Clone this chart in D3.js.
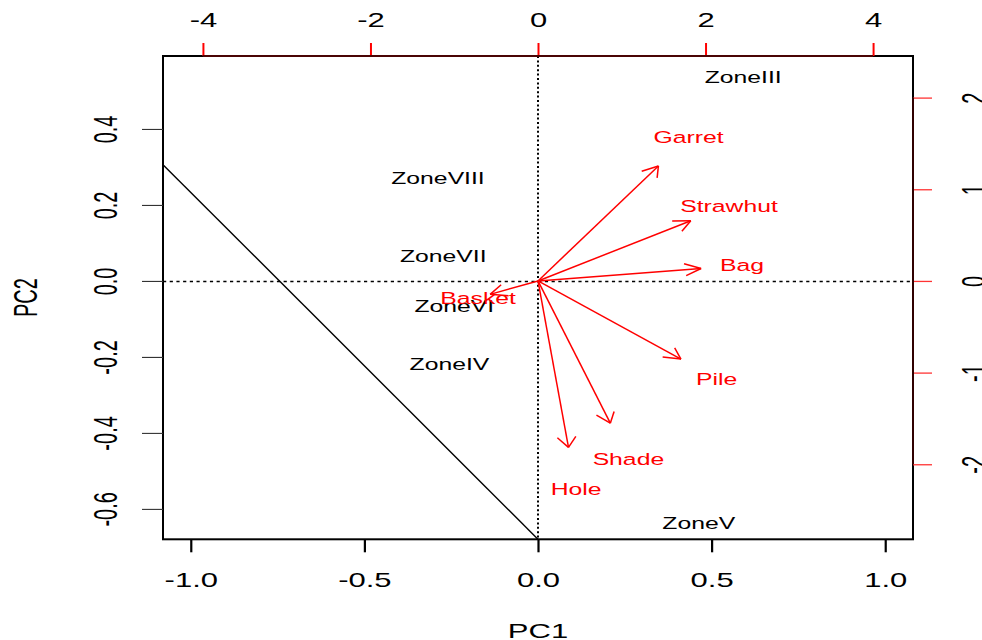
<!DOCTYPE html>
<html><head><meta charset="utf-8">
<script src="https://cdn.jsdelivr.net/npm/d3@7"></script>
<style>html,body{margin:0;padding:0;background:#fff;} svg{display:block;}</style>
</head><body>
<script>
// ---- data ----
const zoneNames = ["ZoneIII","ZoneVIII","ZoneVII","ZoneVI","ZoneIV","ZoneV"];
const zonePC1 = [0.591,-0.288,-0.273,-0.241,-0.255,0.463];
const zonePC2 = [0.536,0.272,0.066,-0.066,-0.219,-0.638];
const varNames = ["Garret","Strawhut","Bag","Pile","Shade","Hole","Basket"];
const varX = [1.797,2.28,2.434,2.133,1.079,0.455,-0.715];
const varY = [1.568,0.82,0.17,-1.066,-1.94,-2.27,-0.183];
const pc1Ticks = [-1.0,-0.5,0.0,0.5,1.0];
const pc2Ticks = [-0.6,-0.4,-0.2,0.0,0.2,0.4];
const topTicks = [-4,-2,0,2,4];
const rightTicks = [-2,-1,0,1,2];
const lineIntercept = -0.68, lineSlope = -0.913;
const arrowShrink = 0.8;
const varScaleRatio = 4.145;

// ---- layout ----
const W = 982, H = 640;
const L = 163, R = 913, T = 56, B = 539.3;
const SX = 1.55;       // horizontal stretch of text
const SXR = 1.65;      // stretch for rotated text
const FONT = "'Liberation Sans', Arial, Helvetica, sans-serif";
const RED = "#ff0000";

const svg = d3.select("body").append("svg").attr("width", W).attr("height", H)
  .style("font-family", FONT);

const x = d3.scaleLinear().domain([-1.08, 1.08]).range([L, R]);
const y = d3.scaleLinear().domain([-0.68, 0.592]).range([B, T]);
const xt = d3.scaleLinear().domain(x.domain().map(d => d * varScaleRatio)).range(x.range());
const yr = d3.scaleLinear().domain(y.domain().map(d => d * varScaleRatio)).range(y.range());

svg.append("defs").append("clipPath").attr("id", "clip")
  .append("rect").attr("x", L).attr("y", T).attr("width", R - L).attr("height", B - T);

// reference lines
svg.append("line").attr("x1", L).attr("x2", R).attr("y1", Math.round(y(0)) + 0.5).attr("y2", Math.round(y(0)) + 0.5)
  .attr("stroke", "#000").attr("stroke-width", 1.4).attr("stroke-dasharray", "3.2,3.5");
svg.append("line").attr("x1", x(0)).attr("x2", x(0)).attr("y1", T).attr("y2", B)
  .attr("stroke", "#000").attr("stroke-width", 2).attr("stroke-dasharray", "2,2.4");

// diagonal line (abline), clipped
const lx = x.domain();
svg.append("line").attr("clip-path", "url(#clip)")
  .attr("x1", x(lx[0])).attr("y1", y(lineIntercept + lineSlope * lx[0]))
  .attr("x2", x(lx[1])).attr("y2", y(lineIntercept + lineSlope * lx[1]))
  .attr("stroke", "#000").attr("stroke-width", 1.4);

// zone labels
svg.append("g").selectAll("text").data(zoneNames).join("text")
  .attr("transform", (d, i) => `translate(${x(zonePC1[i])},${y(zonePC2[i])}) scale(1.5,1)`)
  .attr("dy", "0.36em").attr("text-anchor", "middle").attr("font-size", 16.5)
  .attr("fill", "#000").text(d => d);

// box
svg.append("rect").attr("x", L).attr("y", T).attr("width", R - L).attr("height", B - T)
  .attr("fill", "none").attr("stroke", "#000").attr("stroke-width", 2);

// ---- axes ----
const fmt1 = d => d.toFixed(1);
const fmt0 = d => String(d);

// bottom
const gB = svg.append("g").attr("transform", `translate(0,${B})`)
  .call(d3.axisBottom(x).tickValues(pc1Ticks).tickFormat(fmt1).tickSize(13).tickSizeOuter(0));
gB.select(".domain").remove();
gB.selectAll(".tick line").attr("stroke", "#000").attr("stroke-width", 2.2);
gB.selectAll(".tick text").attr("y", null).attr("dy", null).attr("fill", "#000")
  .attr("font-size", 20).attr("text-anchor", "middle")
  .attr("transform", `translate(0,${587 - B}) scale(${SX},1)`);

// left
const gL = svg.append("g").attr("transform", `translate(${L},0)`)
  .call(d3.axisLeft(y).tickValues(pc2Ticks).tickFormat(fmt1).tickSize(21).tickSizeOuter(0));
gL.select(".domain").remove();
gL.selectAll(".tick line").attr("stroke", "#333").attr("stroke-width", 1.1);
gL.selectAll(".tick text").attr("x", null).attr("dy", null).attr("fill", "#000")
  .attr("font-size", 20).attr("text-anchor", "middle")
  .attr("transform", `translate(${116.7 - L},0) scale(${SXR},1) rotate(-90)`);

// top (variables)
const gT = svg.append("g").attr("transform", `translate(0,${T})`)
  .call(d3.axisTop(xt).tickValues(topTicks).tickFormat(fmt0).tickSize(13).tickSizeOuter(0));
gT.select(".domain").remove();
gT.append("line").attr("x1", xt(topTicks[0])).attr("x2", xt(topTicks[topTicks.length - 1]))
  .attr("stroke", "#4a0404").attr("stroke-width", 2);
gT.selectAll(".tick line").attr("stroke", RED).attr("stroke-width", 2);
gT.selectAll(".tick text").attr("y", null).attr("dy", null).attr("fill", "#000")
  .attr("font-size", 20).attr("text-anchor", "middle")
  .attr("transform", `translate(0,${26.7 - T}) scale(${SX},1)`);

// right (variables)
const gR = svg.append("g").attr("transform", `translate(${R},0)`)
  .call(d3.axisRight(yr).tickValues(rightTicks).tickFormat(fmt0).tickSize(19).tickSizeOuter(0));
gR.select(".domain").remove();
gR.append("line").attr("y1", yr(rightTicks[0])).attr("y2", yr(rightTicks[rightTicks.length - 1]))
  .attr("stroke", "#300000").attr("stroke-width", 2);
gR.selectAll(".tick line").attr("stroke", "#f33").attr("stroke-width", 1.3);
gR.selectAll(".tick text").attr("x", null).attr("dy", null).attr("fill", "#000")
  .attr("font-size", 20).attr("text-anchor", "middle")
  .attr("transform", `translate(${985 - R},0) scale(${SXR},1) rotate(-90)`);

// axis titles
svg.append("text").attr("transform", `translate(${(L + R) / 2},638) scale(${SX},1)`)
  .attr("text-anchor", "middle").attr("font-size", 20).text("PC1");
svg.append("text").attr("transform", `translate(36.7,${(T + B) / 2}) scale(${SXR},1) rotate(-90)`)
  .attr("text-anchor", "middle").attr("font-size", 20).text("PC2");

// ---- arrows ----
const ox = xt(0), oy = yr(0);
const headLen = 12, headAng = Math.PI / 6;
const gA = svg.append("g").attr("stroke", RED).attr("stroke-width", 1.5).attr("fill", "none");
varNames.forEach((n, i) => {
  const tx = xt(varX[i] * arrowShrink), ty = yr(varY[i] * arrowShrink);
  gA.append("line").attr("x1", ox).attr("y1", oy).attr("x2", tx).attr("y2", ty);
  const bx = (ox - tx) / SX, by = (oy - ty);
  const len = Math.hypot(bx, by);
  const ux = bx / len, uy = by / len;
  [headAng, -headAng].forEach(a => {
    const rx = ux * Math.cos(a) - uy * Math.sin(a);
    const ry = ux * Math.sin(a) + uy * Math.cos(a);
    gA.append("line").attr("x1", tx).attr("y1", ty)
      .attr("x2", tx + rx * headLen * SX).attr("y2", ty + ry * headLen);
  });
});

// variable labels
svg.append("g").selectAll("text").data(varNames).join("text")
  .attr("transform", (d, i) => `translate(${xt(varX[i])},${yr(varY[i])}) scale(1.5,1)`)
  .attr("dy", "0.36em").attr("text-anchor", "middle").attr("font-size", 16.5)
  .attr("fill", RED).text(d => d);
</script>
</body></html>
